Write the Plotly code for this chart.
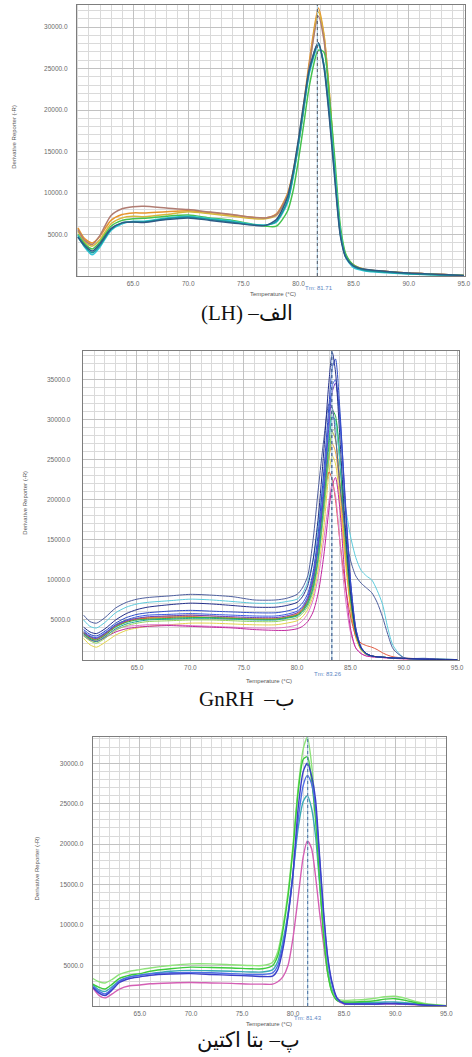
import plotly.graph_objects as go

# ---------------- DATA ----------------
# Panel 1 : LH (الف)
LH_T = [60, 60.6, 61.3, 62, 63, 64, 65, 66, 68, 70, 72, 74, 76, 77, 78, 79, 79.5, 80, 80.5, 81,
        81.8, 82.3, 82.8, 83.3, 83.8, 84.3, 85, 86, 88, 90, 95]
LH_orange = [5800, 4500, 3970, 4800, 6700, 7400, 7600, 7600, 7750, 7850, 7650, 7350, 7050, 7000, 7500, 9900, 12500, 16300, 21000, 26000,
             32300, 29200, 22000, 12800, 5300, 2400, 1300, 800, 550, 350, 60]
LH_gold = [5400, 4100, 3600, 4400, 6300, 7000, 7200, 7150, 7400, 7750, 7500, 7200, 6900, 6900, 7300, 9700, 12300, 16000, 20500, 25500,
           31800, 29000, 22000, 13000, 5500, 2500, 1300, 800, 550, 350, 60]
LH_mauve = [5600, 4300, 3800, 4900, 7300, 8100, 8350, 8400, 8200, 8000, 7700, 7400, 7050, 7000, 7400, 9700, 12300, 16000, 20500, 25500,
            31300, 28500, 21500, 12500, 5200, 2400, 1300, 800, 550, 350, 60]
LH_green = [5000, 3900, 3250, 4100, 6000, 6700, 6900, 6950, 7200, 7350, 7000, 6700, 6200, 6000, 6000, 7800, 10200, 14000, 18500, 23000,
            27200, 27000, 21500, 14000, 6000, 2600, 1300, 750, 500, 300, 50]
LH_cyan = [4900, 3500, 2550, 3500, 5500, 6300, 6600, 6600, 7000, 7200, 6900, 6600, 6200, 6150, 6500, 8800, 11800, 15800, 20300, 24500,
           27800, 25500, 19800, 12500, 5300, 2200, 1000, 600, 400, 250, 30]
LH_teal = [4700, 3600, 2800, 3700, 5600, 6400, 6500, 6500, 6900, 7100, 6800, 6500, 6150, 6100, 6600, 9000, 12000, 16000, 20500, 24800,
           28000, 25500, 19500, 12000, 5000, 2300, 1200, 700, 450, 280, 40]
LH_navy = [4700, 3700, 3000, 3900, 5700, 6400, 6500, 6450, 6800, 7000, 6700, 6400, 6100, 6100, 6800, 9500, 12500, 16500, 21000, 25000,
           28100, 25200, 19000, 11500, 4800, 2200, 1200, 800, 550, 350, 60]

# Panel 2 : GnRH (ب)
GN_T = [60, 60.6, 61.2, 62, 63, 64, 65, 66, 68, 70, 72, 74, 76, 78, 79, 80, 80.5, 81, 81.5, 82,
        82.5, 83, 83.3, 83.6, 84, 84.5, 85, 85.5, 86, 86.5, 87, 87.5, 88, 88.5, 89, 90, 92, 95]
GN_slate = [5600, 4800, 4600, 5300, 6500, 7200, 7600, 7800, 8000, 8200, 8100, 7900, 7500, 7500, 7700, 8200, 9000, 10500, 15000, 21500,
            27500, 32000, 31500, 28000, 22000, 16500, 12500, 10500, 9600, 9000, 8400, 7200, 5400, 3200, 1400, 300, 200, 50]
GN_cyan = [5000, 4200, 4000, 4700, 5900, 6600, 7000, 7200, 7400, 7600, 7500, 7300, 7100, 7100, 7300, 7600, 8300, 9800, 12500, 17000,
           23000, 28500, 30500, 29500, 25000, 19500, 15500, 12800, 11200, 10500, 10000, 8700, 7000, 4000, 1800, 300, 200, 50]
GN_navy = [4100, 3500, 3300, 3900, 5000, 5800, 6300, 6600, 6900, 7100, 7000, 6800, 6600, 6600, 6800, 7200, 7900, 9300, 12500, 18000,
           26000, 35000, 38400, 36000, 28000, 17000, 8500, 3500, 1500, 800, 500, 400, 350, 300, 250, 200, 100, 20]
GN_royal = [3800, 3200, 3000, 3600, 4600, 5300, 5700, 5900, 6100, 6200, 6100, 6000, 5900, 5900, 6100, 6500, 7100, 8300, 11000, 16000,
            23500, 32000, 36500, 37600, 31500, 20000, 10000, 4000, 1600, 800, 500, 400, 350, 300, 250, 200, 100, 20]
GN_blue = [3600, 3000, 2800, 3400, 4400, 5000, 5400, 5600, 5700, 5800, 5700, 5600, 5500, 5500, 5700, 6100, 6700, 7900, 10500, 15000,
           22000, 30500, 34300, 35000, 30000, 19500, 9500, 3800, 1500, 800, 500, 400, 350, 300, 250, 200, 100, 20]
GN_violet = [3400, 2900, 2700, 3300, 4300, 4900, 5200, 5400, 5500, 5600, 5500, 5400, 5300, 5300, 5500, 5900, 6500, 7600, 10000, 14500,
             21000, 29500, 33500, 34600, 30500, 20500, 10000, 4000, 1600, 800, 500, 400, 350, 300, 250, 200, 100, 20]
GN_green = [3300, 2700, 2500, 3100, 4100, 4700, 5000, 5100, 5200, 5300, 5300, 5200, 5100, 5100, 5300, 5600, 6200, 7300, 9500, 14000,
            20500, 28000, 31200, 30500, 25500, 16000, 8000, 3500, 1500, 800, 500, 400, 350, 300, 250, 200, 100, 20]
GN_teal = [3200, 2600, 2300, 2900, 3900, 4500, 4800, 5000, 5100, 5200, 5200, 5100, 5000, 5000, 5200, 5500, 6000, 7000, 9000, 13000,
           19500, 27000, 30300, 30000, 25000, 15500, 7800, 3300, 1400, 700, 500, 400, 350, 300, 250, 200, 100, 20]
GN_lime = [3000, 2400, 2100, 2700, 3700, 4300, 4600, 4800, 4900, 5000, 5000, 4900, 4800, 4800, 5000, 5300, 5800, 6700, 8600, 12500,
           18500, 25500, 28500, 29000, 25000, 16000, 8000, 3400, 1400, 700, 500, 400, 350, 300, 250, 200, 100, 20]
GN_olive = [3500, 2900, 2700, 3300, 4400, 5000, 5200, 5300, 5400, 5400, 5300, 5200, 5100, 5100, 5300, 5600, 6100, 7100, 9000, 12800,
            18500, 25500, 28500, 27500, 22500, 14000, 7000, 3000, 1300, 700, 500, 400, 350, 300, 250, 200, 100, 20]
GN_yellow = [2700, 1900, 1600, 2200, 3100, 3700, 4000, 4200, 4400, 4600, 4600, 4500, 4400, 4400, 4600, 4900, 5400, 6300, 8000, 11500,
             16500, 23500, 25500, 24500, 20000, 12500, 6500, 2800, 1200, 700, 500, 400, 350, 300, 250, 200, 100, 20]
GN_red = [3400, 2800, 2600, 3200, 4200, 4800, 5100, 5200, 5300, 5400, 5300, 5200, 5100, 5100, 5300, 5700, 6300, 7500, 10000, 14500,
          20500, 23500, 22500, 20000, 15000, 9500, 5500, 3000, 2100, 1800, 1600, 1300, 900, 600, 400, 250, 120, 20]
GN_magenta = [3000, 2500, 2300, 2800, 3500, 3900, 4100, 4200, 4300, 4200, 4100, 4000, 3800, 3700, 3700, 3900, 4200, 4800, 6000, 8500,
              13000, 19000, 21800, 22800, 19000, 10000, 4000, 1500, 800, 500, 400, 350, 300, 250, 200, 150, 80, 10]
GN_pink = [3200, 2600, 2400, 3000, 3800, 4200, 4300, 4400, 4400, 4300, 4200, 4100, 4000, 4000, 4100, 4400, 4900, 5800, 7500, 10500,
           15000, 20000, 22000, 20500, 15000, 8000, 3500, 1500, 800, 500, 400, 350, 300, 250, 200, 150, 80, 10]
GN_orange = [3300, 2700, 2500, 3100, 4200, 4800, 5100, 5300, 5500, 5600, 5500, 5300, 5200, 5200, 5400, 5800, 6400, 7600, 10000, 14500,
             20000, 25500, 27000, 26000, 21500, 13500, 6800, 2900, 1300, 700, 500, 400, 350, 300, 250, 200, 100, 20]

# Panel 3 : beta-actin (پ)
BA_T = [60.4, 61, 61.6, 62.3, 63, 64, 65, 66, 68, 70, 72, 74, 76, 77, 78, 78.5, 79, 79.5, 80, 80.5,
        81, 81.4, 81.8, 82.2, 82.6, 83, 83.4, 83.8, 84.3, 85, 86, 87, 88, 89, 90, 91, 92, 93, 95]
BA_lime = [3400, 3000, 2850, 3300, 3900, 4300, 4500, 4700, 5000, 5200, 5200, 5100, 5000, 5000, 5400, 6700, 9800, 14000, 20000, 27000,
           31800, 33200, 30000, 24000, 16000, 8800, 4000, 1800, 900, 700, 750, 800, 950, 1150, 1200, 950, 550, 300, 50]
BA_green = [2700, 2300, 2100, 2700, 3400, 3800, 4000, 4300, 4600, 4800, 4750, 4700, 4600, 4600, 5000, 6200, 9300, 13500, 19500, 26500,
            30500, 30800, 28000, 23000, 15500, 8500, 4000, 1700, 700, 500, 500, 550, 650, 850, 900, 700, 400, 200, 30]
BA_teal = [2600, 2000, 1800, 2400, 3100, 3600, 3800, 4000, 4300, 4400, 4350, 4300, 4200, 4200, 4500, 5500, 8000, 11500, 16500, 22000,
           25300, 26000, 24500, 21000, 15000, 9000, 4500, 2000, 700, 400, 400, 400, 450, 500, 500, 400, 300, 150, 20]
BA_royal = [2400, 1800, 1500, 2200, 3100, 3600, 3800, 4000, 4100, 4150, 4100, 4000, 3900, 3900, 4100, 5000, 7500, 11200, 16300, 23000,
            27300, 28500, 27500, 24500, 18000, 11000, 5800, 2800, 900, 300, 250, 250, 250, 300, 300, 250, 200, 100, 20]
BA_navy = [2300, 1600, 1300, 2000, 2900, 3400, 3600, 3800, 3950, 4000, 3900, 3800, 3700, 3650, 3700, 4500, 7000, 11000, 16500, 24500,
           29000, 30000, 28500, 25500, 18500, 11500, 6000, 3000, 1000, 300, 250, 250, 250, 300, 300, 250, 200, 100, 20]
BA_magenta = [2200, 1300, 1000, 1500, 2100, 2500, 2600, 2750, 2850, 2900, 2850, 2800, 2700, 2700, 2700, 3000, 3600, 5000, 8500, 13500,
              18500, 20400, 19500, 16000, 11500, 7500, 4000, 2000, 700, 250, 200, 200, 200, 250, 250, 200, 150, 80, 10]

X_TICKS = [65, 70, 75, 80, 85, 90, 95]
LH_YTICKS = [5000, 10000, 15000, 20000, 25000, 30000]
GN_YTICKS = [5000, 10000, 15000, 20000, 25000, 30000, 35000]
BA_YTICKS = [5000, 10000, 15000, 20000, 25000, 30000]
TM_VALUES = [81.71, 83.26, 81.43]
CAPTIONS = ["(LH) –الف", "GnRH  –ب", "پ– بتا اکتین"]
X_TITLE = "Temperature (°C)"
Y_TITLE = "Derivative Reporter (-R)"

# ---------------- STYLE / LAYOUT ----------------
W, H = 472, 1057


def px_x(p):
    return p / W


def px_y(p):
    return 1 - p / H


panels = [
    dict(T=LH_T, curves=[(LH_orange, "#e8952c"), (LH_gold, "#d6b63c"), (LH_mauve, "#b07c72"),
                         (LH_green, "#46c24e"), (LH_cyan, "#34c6d8"), (LH_teal, "#1a9a9c"),
                         (LH_navy, "#2d5a86")],
         width=1.5, box=(78, 472, 5, 276), xr=[59.9, 95.1], yr=[0, 32650], yticks=LH_YTICKS,
         tm_col="#555a66", tm_lbl=(2, 288), xt_y=294, xt_x=277, yt=(14, 137), tick_std=7),
    dict(T=GN_T, curves=[(GN_yellow, "#e3d24a"), (GN_olive, "#a9a92e"), (GN_orange, "#f0a23a"),
                         (GN_red, "#e0553a"), (GN_pink, "#e07ac8"), (GN_magenta, "#c2259e"),
                         (GN_lime, "#8fd45c"), (GN_teal, "#1fa39a"), (GN_green, "#2db34a"),
                         (GN_cyan, "#5ccbdc"), (GN_slate, "#4f5f9e"), (GN_violet, "#6a3fc0"),
                         (GN_blue, "#3a5be0"), (GN_royal, "#2f4cc8"), (GN_navy, "#24308a")],
         width=1.0, box=(84, 466, 351, 660), xr=[59.92, 95.18], yr=[0, 38600], yticks=GN_YTICKS,
         tm_col="#2c4a80", tm_lbl=(-4, 674), xt_y=681, xt_x=273, yt=(25, 503), tick_std=10),
    dict(T=BA_T, curves=[(BA_magenta, "#d45fb4"), (BA_teal, "#3aaab5"), (BA_lime, "#8ee27a"),
                         (BA_green, "#3ccb3c"), (BA_royal, "#4f6fe6"), (BA_navy, "#3a3fc8")],
         width=1.4, box=(94, 453, 737, 1006), xr=[60.37, 95.0], yr=[0, 33240], yticks=BA_YTICKS,
         tm_col="#4a6fa0", tm_lbl=(0, 1018), xt_y=1024, xt_x=273, yt=(38, 868), tick_std=7),
]

TICK_FONT = dict(family="Liberation Sans, Arial, sans-serif", size=6.5, color="#6a6a6a")
SMALL_FONT = dict(family="Liberation Sans, Arial, sans-serif", size=6, color="#555555")
CAP_FONT = dict(family="Liberation Serif, Times New Roman, DejaVu Serif, serif", size=21, color="#111111")
CAP_POS = [(251, 313), (251, 699), (252, 1040)]

fig = go.Figure()
layout = dict(width=W, height=H, margin=dict(l=0, r=0, t=0, b=0), autosize=False,
              paper_bgcolor="white", plot_bgcolor="white", showlegend=False)
annotations = []
shapes = []

for i, p in enumerate(panels):
    sfx = "" if i == 0 else str(i + 1)
    xa, ya = "x" + sfx, "y" + sfx
    for ys, col in p["curves"]:
        fig.add_trace(go.Scatter(x=p["T"], y=ys, mode="lines", xaxis=xa, yaxis=ya,
                                 line=dict(color=col, width=p["width"], shape="spline", smoothing=0.7),
                                 hoverinfo="skip"))
    l, r, t, b = p["box"]
    layout["xaxis" + sfx] = dict(
        domain=[px_x(l), px_x(r)], range=p["xr"], anchor=ya,
        tickmode="array", tickvals=X_TICKS, ticktext=[f"{v:.1f}" for v in X_TICKS],
        showgrid=True, gridcolor="#c2c2c2", gridwidth=1,
        minor=dict(tickmode="linear", tick0=0, dtick=1, showgrid=True, gridcolor="#dadada", gridwidth=1),
        showline=True, linecolor="#7d7d7d", linewidth=1, mirror=True, zeroline=False,
        ticks="", tickfont=TICK_FONT, ticklabelstandoff=1, fixedrange=True)
    layout["yaxis" + sfx] = dict(
        domain=[px_y(b), px_y(t)], range=p["yr"], anchor=xa,
        tickmode="array", tickvals=p["yticks"], ticktext=[f"{v:.1f}" for v in p["yticks"]],
        showgrid=True, gridcolor="#c2c2c2", gridwidth=1,
        minor=dict(tickmode="linear", tick0=0, dtick=1000, showgrid=True, gridcolor="#dadada", gridwidth=1),
        showline=True, linecolor="#7d7d7d", linewidth=1, mirror=True, zeroline=False,
        ticks="", tickfont=TICK_FONT, ticklabelstandoff=p["tick_std"], fixedrange=True)

    tm = TM_VALUES[i]
    shapes.append(dict(type="line", xref=xa, yref=ya + " domain", x0=tm, x1=tm, y0=0, y1=1,
                       line=dict(color="#9fc3da", width=1), layer="above"))
    shapes.append(dict(type="line", xref=xa, yref=ya + " domain", x0=tm, x1=tm, y0=0, y1=1,
                       line=dict(color=p["tm_col"], width=1, dash="dot"), layer="above"))
    annotations.append(dict(text=f"Tm: {tm:.2f}", xref=xa, x=tm, xshift=p["tm_lbl"][0],
                            yref="paper", y=px_y(p["tm_lbl"][1]), showarrow=False,
                            font=dict(family=SMALL_FONT["family"], size=6, color="#5b86c4"),
                            xanchor="center", yanchor="middle"))
    annotations.append(dict(text=X_TITLE, xref="paper", x=px_x(p["xt_x"]), yref="paper",
                            y=px_y(p["xt_y"]), showarrow=False, font=SMALL_FONT,
                            xanchor="center", yanchor="middle"))
    annotations.append(dict(text=Y_TITLE, xref="paper", x=px_x(p["yt"][0]), yref="paper",
                            y=px_y(p["yt"][1]), showarrow=False, font=SMALL_FONT, textangle=-90,
                            xanchor="center", yanchor="middle"))
    cx, cy = CAP_POS[i]
    annotations.append(dict(text=CAPTIONS[i], xref="paper", x=px_x(cx), yref="paper", y=px_y(cy),
                            showarrow=False, font=CAP_FONT, xanchor="center", yanchor="middle"))

layout["annotations"] = annotations
layout["shapes"] = shapes
fig.update_layout(**layout)
fig.write_html("out.html", config={"displayModeBar": False},
               post_script="document.body.style.margin='0';document.body.style.padding='0';")
